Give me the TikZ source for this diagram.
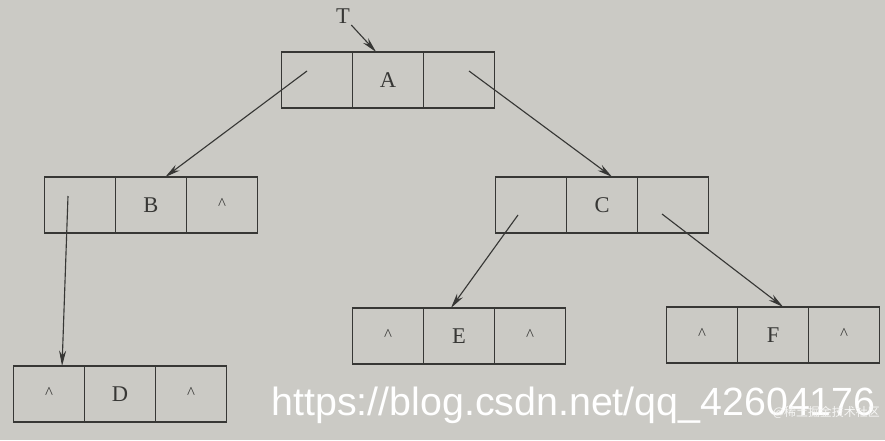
\documentclass[tikz,border=0pt]{standalone}
\usepackage{fontspec}
\setmainfont{Liberation Serif}
\newfontfamily\urlfont{Liberation Sans}
\newfontfamily\cjk{Noto Sans CJK SC}
\usepackage{tikz}
\usetikzlibrary{arrows.meta}
\definecolor{paper}{RGB}{203,202,197}
\definecolor{ink}{RGB}{55,55,53}
\tikzset{
  cell/.style={draw=ink, line width=1pt, rectangle, inner sep=0pt, outer sep=0pt,
    minimum width=1.775cm, minimum height=1.4cm, text=ink, font=\fontsize{16}{18}\selectfont},
  ptr/.style={draw=ink, line width=0.8pt, -{Stealth[length=11pt,width=5pt]}}
}
% one node of the binary linked list: name, x, y of middle cell, three texts
\newcommand{\bitnode}[6]{%
  \node[cell] (#1l) at (#2-71,#3) {#4};
  \node[cell] (#1m) at (#2,#3) {#5};
  \node[cell] (#1r) at (#2+71,#3) {#6};}
\def\nil{\raisebox{2pt}{\fontsize{12}{12}\selectfont\textasciicircum}}
\begin{document}
\begin{tikzpicture}[x=0.025cm,y=-0.025cm]
  \fill[paper] (0,0) rectangle (885,440);
  \useasboundingbox (0,0) rectangle (885,440);

  \bitnode{A}{388}{80}{}{A}{}
  \bitnode{B}{151}{205}{}{B}{\nil}
  \bitnode{C}{602}{205}{}{C}{}
  \bitnode{D}{120}{394}{\nil}{D}{\nil}
  \bitnode{E}{459}{336}{\nil}{E}{\nil}
  \bitnode{F}{773}{335}{\nil}{F}{\nil}

  %pointer tails inside the cells
  \coordinate (tA1) at (307,71);
  \coordinate (tA2) at (469,71);
  \coordinate (tB) at (68,196);
  \coordinate (tC1) at (518,215);
  \coordinate (tC2) at (662,214);

  \node[text=ink, font=\fontsize{16}{18}\selectfont, inner sep=1pt] (T) at (343,16) {T};
  \draw[ptr] (T) -- (Am.113);

  \draw[ptr] (tA1) -- (Bm.63);
  \draw[ptr] (tA2) -- (Cm.70);
  \draw[ptr] (tB) -- (Dl.65);
  \draw[ptr] (tC1) -- (Em.106);
  \draw[ptr] (tC2) -- (Fm.70);

  %watermarks
  \node[text=white, anchor=east, inner sep=0pt, font=\urlfont\fontsize{28}{30}\selectfont] (url) at (876,405) {https://blog.csdn.net/qq\_42604176};
  \node[text=white!85!paper, anchor=east, inner sep=0pt, font=\cjk\fontsize{8.5}{10}\selectfont] (juejin) at (880,412) {@稀土掘金技术社区};
\end{tikzpicture}
\end{document}
